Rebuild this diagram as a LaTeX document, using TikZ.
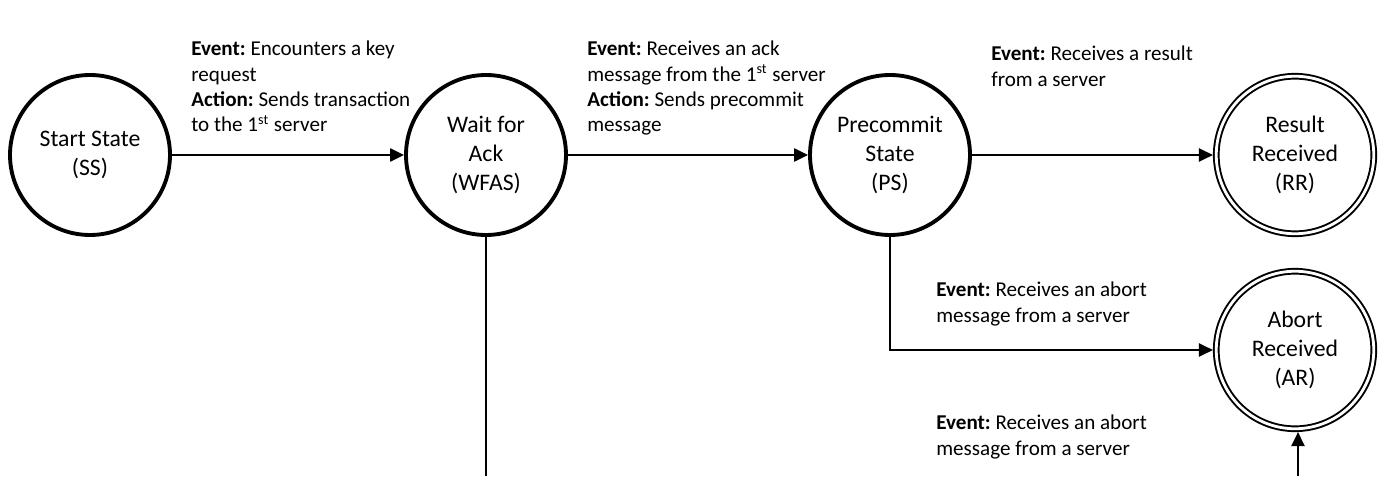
\documentclass[tikz,border=0pt]{standalone}
\usepackage{fontspec}
\setmainfont{Carlito}
\usetikzlibrary{arrows.meta}
\frenchspacing

\begin{document}
\begin{tikzpicture}[>={Triangle[length=8pt, width=7.5pt]},
    state/.style={circle, draw, line width=2.2pt, minimum size=3.2cm,
        inner sep=0pt, align=center, font=\fontsize{13.5}{16.5}\selectfont},
    final/.style={circle, draw, double, line width=1.1pt,
        double distance=1.6pt, minimum size=3.15cm, outer sep=1.9pt,
        inner sep=0pt, align=center, font=\fontsize{13.5}{16.5}\selectfont},
    conn/.style={line width=1.1pt},
    lbl/.style={anchor=north west, inner sep=0pt, align=left,
        font=\fontsize{12}{14.4}\selectfont}]

  \useasboundingbox (0,0) rectangle (27.8,9.52);

  % ---- the states ----
  \node[state] (ss) at (1.80,6.42) {Start State\\(SS)};
  \node[state] (wfas) at (9.72,6.42) {Wait for\\Ack\\(WFAS)};
  \node[state] (ps) at (17.80,6.42) {Precommit\\State\\(PS)};
  \node[final] (rr) at (25.90,6.42) {Result\\Received\\(RR)};
  \node[final] (ar) at (25.90,2.52) {Abort\\Received\\(AR)};

  % ---- free ends, cut by the lower edge ----
  \coordinate (wfasout) at (9.72,0);
  \coordinate (arin) at (25.96,0);

  % ---- transitions ----
  \draw[conn, ->] (ss) -- (wfas);
  \draw[conn, ->] (wfas) -- (ps);
  \draw[conn, ->] (ps) -- (rr);
  \draw[conn, ->] (ps.south) |- (ar.west);
  \draw[conn] (wfas.south) -- (wfasout);
  \draw[conn, ->] (arin) -- (ar.south -| arin);

  % ---- transition labels ----
  \node[lbl] (l1) at (3.82,8.70)
      {\textbf{Event:} Encounters a key\\request\\
       \textbf{Action:} Sends transaction\\to the 1\textsuperscript{st} server};
  \node[lbl] (l2) at (11.74,8.70)
      {\textbf{Event:} Receives an ack\\
       message from the 1\textsuperscript{st} server\\
       \textbf{Action:} Sends precommit\\message};
  \node[lbl] (l3) at (19.82,8.60)
      {\textbf{Event:} Receives a result\\from a server};
  \node[lbl] (l4) at (18.72,3.88)
      {\textbf{Event:} Receives an abort\\message from a server};
  \node[lbl] (l5) at (18.72,1.22)
      {\textbf{Event:} Receives an abort\\message from a server};

\end{tikzpicture}
\end{document}
